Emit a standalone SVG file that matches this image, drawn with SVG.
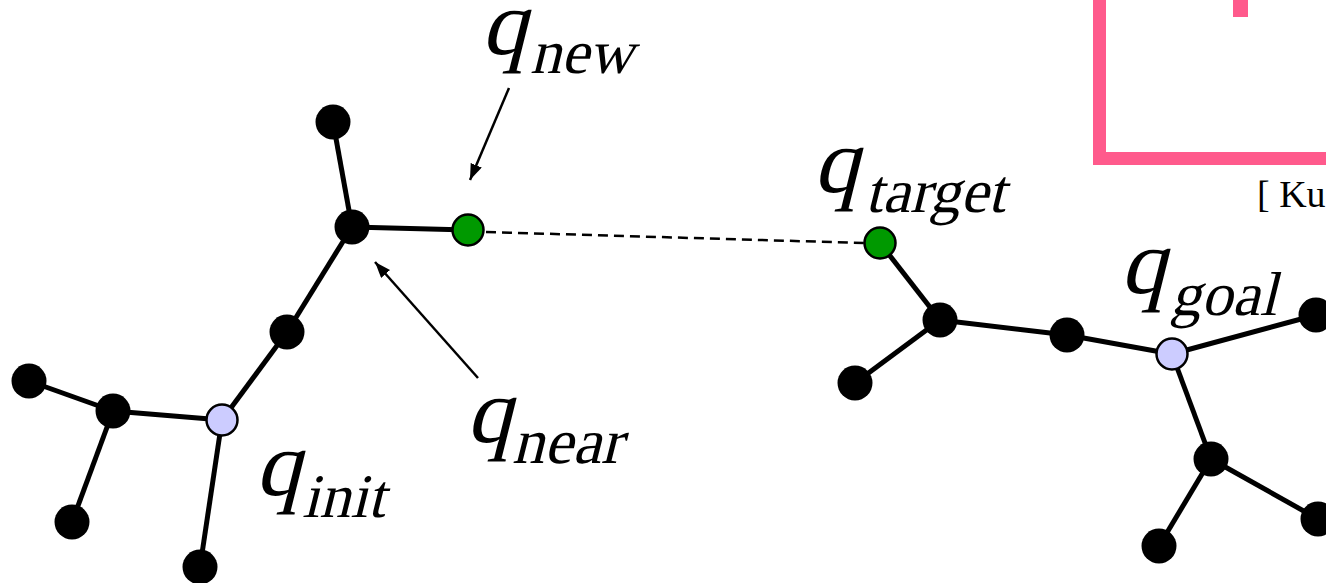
<svg xmlns="http://www.w3.org/2000/svg" width="1326" height="583" viewBox="0 0 1326 583">
<defs>
<marker id="ah" viewBox="0 0 16 12" refX="16" refY="6" markerWidth="16" markerHeight="12" markerUnits="userSpaceOnUse" orient="auto">
<path d="M0,0 L16,6 L0,12 z" fill="#000"/>
</marker>
<style>
.e{stroke:#000;stroke-width:5;fill:none}
.b{fill:#000}
.g{fill:#009900;stroke:#000;stroke-width:2.5}
.l{fill:#CCCCFF;stroke:#000;stroke-width:2.5}
</style>
</defs>
<rect width="1326" height="583" fill="#fff"/>
<g id="frame">
<polyline points="1099.5,0 1099.5,158.5 1326,158.5" fill="none" stroke="#FF5A8C" stroke-width="13"/>
<rect x="1233" y="0" width="15" height="17" fill="#FF5A8C"/>
<text x="1257" y="207" font-family="Liberation Serif, serif" font-size="38" fill="#000">[ Ku</text>
</g>
<g id="connectors">
<line class="e" x1="333" y1="122" x2="352" y2="227"/>
<line class="e" x1="352" y1="227" x2="468" y2="230"/>
<line class="e" x1="352" y1="227" x2="287" y2="332"/>
<line class="e" x1="287" y1="332" x2="222" y2="420"/>
<line class="e" x1="222" y1="420" x2="113" y2="411"/>
<line class="e" x1="113" y1="411" x2="29" y2="381"/>
<line class="e" x1="113" y1="411" x2="72" y2="522"/>
<line class="e" x1="222" y1="420" x2="200" y2="567"/>
<line class="e" x1="880" y1="243" x2="940" y2="320"/>
<line class="e" x1="940" y1="320" x2="855" y2="383"/>
<line class="e" x1="940" y1="320" x2="1067" y2="335"/>
<line class="e" x1="1067" y1="335" x2="1172" y2="354"/>
<line class="e" x1="1172" y1="354" x2="1316" y2="315"/>
<line class="e" x1="1172" y1="354" x2="1211" y2="459"/>
<line class="e" x1="1211" y1="459" x2="1159" y2="546"/>
<line class="e" x1="1211" y1="459" x2="1318" y2="519"/>
<line x1="486" y1="232" x2="864" y2="243" stroke="#000" stroke-width="2.5" stroke-dasharray="10,6"/>
<line x1="509" y1="88" x2="470" y2="180" stroke="#000" stroke-width="2.5" marker-end="url(#ah)"/>
<line x1="478" y1="378" x2="375" y2="262" stroke="#000" stroke-width="2.5" marker-end="url(#ah)"/>
</g>
<g id="n1"><circle class="b" cx="333" cy="122" r="17.5"/></g>
<g id="n2"><circle class="b" cx="352" cy="227" r="17.5"/></g>
<g id="qnew" font-family="Liberation Serif, serif" fill="#000"><circle class="g" cx="468" cy="230" r="15.5"/><text font-size="92" transform="translate(481,54) skewX(-14)">q</text><text font-size="62" transform="translate(530,73) skewX(-14)">new</text></g>
<g id="n3"><circle class="b" cx="287" cy="332" r="17.5"/></g>
<g id="qinit" font-family="Liberation Serif, serif" fill="#000"><circle class="l" cx="222" cy="420" r="15.5"/><text font-size="92" transform="translate(255,495) skewX(-14)">q</text><text font-size="62" transform="translate(302,517) skewX(-14)">init</text></g>
<g id="n4"><circle class="b" cx="113" cy="411" r="17.5"/></g>
<g id="n5"><circle class="b" cx="29" cy="381" r="17.5"/></g>
<g id="n6"><circle class="b" cx="72" cy="522" r="17.5"/></g>
<g id="n7"><circle class="b" cx="200" cy="567" r="17.5"/></g>
<g id="qnear" font-family="Liberation Serif, serif" fill="#000"><text font-size="92" transform="translate(466,442) skewX(-14)">q</text><text font-size="64" transform="translate(512,463) skewX(-14)">near</text></g>
<g id="qtarget" font-family="Liberation Serif, serif" fill="#000"><circle class="g" cx="880" cy="243" r="15.5"/><text font-size="92" transform="translate(813,192) skewX(-14)">q</text><text font-size="62" transform="translate(865,212) skewX(-14)">target</text></g>
<g id="n8"><circle class="b" cx="940" cy="320" r="17.5"/></g>
<g id="n9"><circle class="b" cx="855" cy="383" r="17.5"/></g>
<g id="n10"><circle class="b" cx="1067" cy="335" r="17.5"/></g>
<g id="qgoal" font-family="Liberation Serif, serif" fill="#000"><circle class="l" cx="1172" cy="354" r="15.5"/><text font-size="92" transform="translate(1120,293) skewX(-14)">q</text><text font-size="62" transform="translate(1170,315) skewX(-14)">goal</text></g>
<g id="n11"><circle class="b" cx="1316" cy="315" r="17.5"/></g>
<g id="n12"><circle class="b" cx="1211" cy="459" r="17.5"/></g>
<g id="n13"><circle class="b" cx="1159" cy="546" r="17.5"/></g>
<g id="n14"><circle class="b" cx="1318" cy="519" r="17.5"/></g>
</svg>
